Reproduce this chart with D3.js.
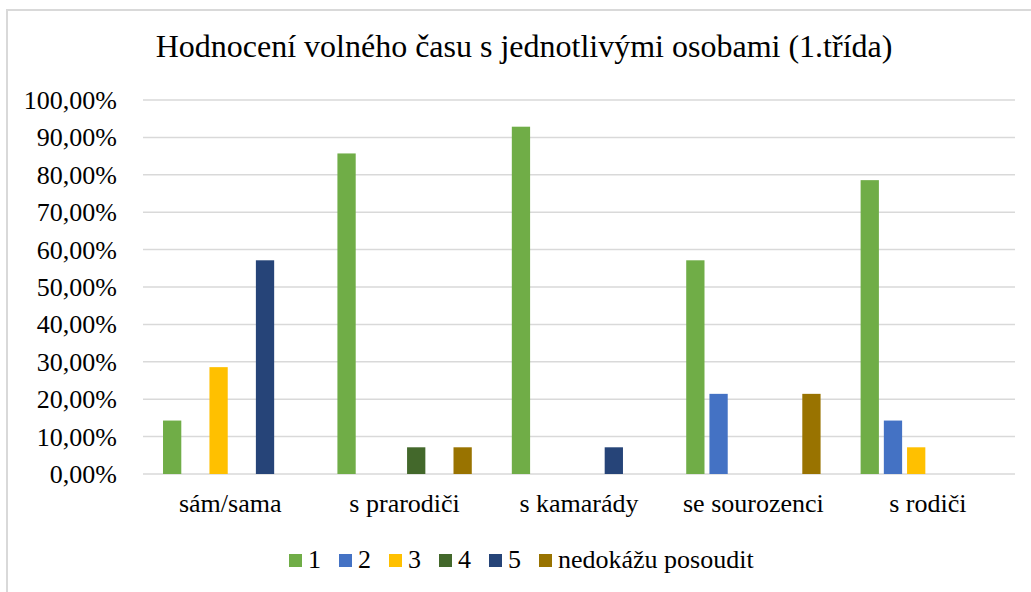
<!DOCTYPE html>
<html>
<head>
<meta charset="utf-8">
<script src="https://cdn.jsdelivr.net/npm/d3@7"></script>
</head>
<body style="margin:0">
<script>
// Data
const categories = ["sám/sama", "s prarodiči", "s kamarády", "se sourozenci", "s rodiči"];
const seriesNames = ["1", "2", "3", "4", "5", "nedokážu posoudit"];
const seriesColors = ["#70ad47", "#4472c4", "#ffc000", "#43682b", "#264478", "#997300"];
const s1 = [14.29, 85.71, 92.86, 57.14, 78.57];
const s2 = [0, 0, 0, 21.43, 14.29];
const s3 = [28.57, 0, 0, 0, 7.14];
const s4 = [0, 7.14, 0, 0, 0];
const s5 = [57.14, 0, 7.14, 0, 0];
const s6 = [0, 7.14, 0, 21.43, 0];
const yTicks = [0, 10, 20, 30, 40, 50, 60, 70, 80, 90, 100];
const titleText = "Hodnocení volného času s jednotlivými osobami (1.třída)";

const allSeries = [s1, s2, s3, s4, s5, s6];
const FONT = "'Times New Roman'";

const config = {
  width  : 1031,
  height : 592,
  left   : 143,
  right  : 1015,
  top    : 100,
  bottom : 474
};

const svg = d3.select("body")
  .append("svg")
    .attr("width", config.width)
    .attr("height", config.height)
    .style("font-family", FONT);

// chart border (only top and left visible in the reference)
svg.append("path")
  .attr("d", "M7,600 L7,10 L1040,10")
  .attr("fill", "none")
  .attr("stroke", "#d9d9d9")
  .attr("stroke-width", 2);

// title
svg.append("text")
  .attr("x", 524)
  .attr("y", 57)
  .attr("text-anchor", "middle")
  .style("font-family", FONT)
  .style("font-size", "32px")
  .text(titleText);

const y = d3.scaleLinear()
  .domain([0, 100])
  .range([config.bottom, config.top]);

const x0 = d3.scaleBand()
  .domain(categories)
  .range([config.left, config.right]);

// Excel defaults: gap width 219%, overlap -27%
const band = x0.bandwidth();
const barW = band / (6 + 5 * 0.27 + 2.19);
const step = barW * 1.27;
const groupOffset = barW * 2.19 / 2;

// gridlines
svg.append("g")
  .selectAll("line")
  .data(yTicks)
  .enter()
  .append("line")
    .attr("x1", config.left)
    .attr("x2", config.right)
    .attr("y1", d => y(d))
    .attr("y2", d => y(d))
    .attr("stroke", "#d9d9d9")
    .attr("stroke-width", 1.5);

// y axis labels
const fmt = d => d.toFixed(2).replace(".", ",") + "%";
svg.append("g")
  .selectAll("text")
  .data(yTicks)
  .enter()
  .append("text")
    .attr("x", 117)
    .attr("y", d => y(d) + 9)
    .attr("text-anchor", "end")
    .style("font-family", FONT)
    .style("font-size", "26px")
    .text(fmt);

// bars
const bars = [];
allSeries.forEach((vals, si) => {
  vals.forEach((v, ci) => {
    bars.push({ cat: categories[ci], si: si, value: v });
  });
});

svg.append("g")
  .selectAll("rect")
  .data(bars.filter(d => d.value > 0))
  .enter()
  .append("rect")
    .attr("x", d => x0(d.cat) + groupOffset + d.si * step)
    .attr("y", d => y(d.value))
    .attr("width", barW)
    .attr("height", d => y(0) - y(d.value))
    .attr("fill", d => seriesColors[d.si]);

// category labels
svg.append("g")
  .selectAll("text")
  .data(categories)
  .enter()
  .append("text")
    .attr("x", d => x0(d) + band / 2)
    .attr("y", 512)
    .attr("text-anchor", "middle")
    .style("font-family", FONT)
    .style("font-size", "26px")
    .text(d => d);

// legend
const legend = svg.append("g");
let lx = 289;
seriesNames.forEach((name, i) => {
  legend.append("rect")
    .attr("x", lx)
    .attr("y", 554)
    .attr("width", 13)
    .attr("height", 13)
    .attr("fill", seriesColors[i]);
  const t = legend.append("text")
    .attr("x", lx + 19)
    .attr("y", 568)
    .style("font-family", FONT)
    .style("font-size", "26px")
    .text(name);
  lx += 19 + t.node().getComputedTextLength() + 18;
});
</script>
</body>
</html>
